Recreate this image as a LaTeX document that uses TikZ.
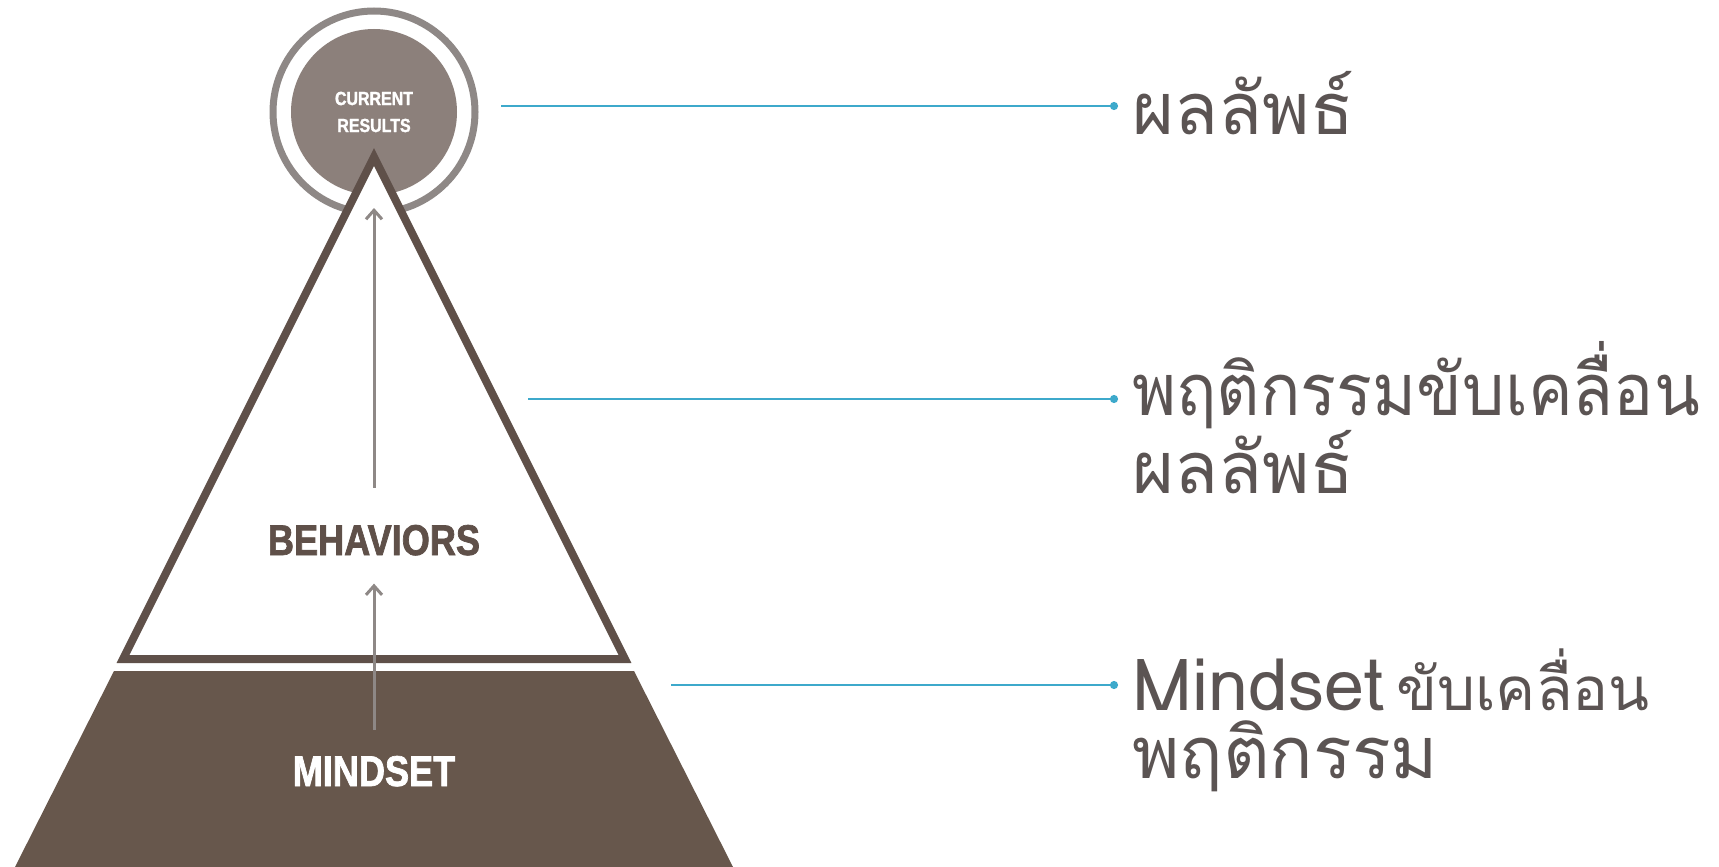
\documentclass[tikz,border=0pt]{standalone}
\usepackage{fontspec}
\usetikzlibrary{arrows.meta,positioning}
\newfontfamily\thaifont[Script=Thai]{Loma}
\newfontfamily\thaitight[Script=Thai,FakeStretch=0.93]{Loma}
\newfontfamily\capsfont[FakeStretch=0.84,FakeBold=1.6]{Liberation Sans Bold}
\definecolor{earth}{HTML}{67574C}
\definecolor{rim}{HTML}{5F5049}
\definecolor{stone}{HTML}{8C807B}
\definecolor{ash}{HTML}{8E8886}
\definecolor{sky}{HTML}{3DA9CB}
\definecolor{ink}{HTML}{5B5453}
\begin{document}
\begin{tikzpicture}[x=1pt,y=-1pt,
  lead/.style={sky,line width=2.2pt,-{Circle[length=8pt]}},
  rise/.style={ash,line width=3pt,-{Straight Barb[length=9pt,width=16pt]}},
  tier/.style={inner sep=0pt,anchor=base,font=\capsfont\fontsize{43}{46}\selectfont},
  note/.style={ink,align=left,anchor=base west,inner sep=0pt,
    font=\thaifont\fontsize{72}{71}\selectfont}
]
  \useasboundingbox[fill=white] (0,0) rectangle (1719,867);
  \coordinate (apex) at (374,157);
  \fill[earth] (114,671) -- (634,671) -- (733,867) -- (15,867) -- cycle;
  \node[circle,fill=stone,minimum size=166pt,inner sep=0pt,align=center,text=white,
    font=\capsfont\fontsize{19}{27}\selectfont] (res) at (374,112) {CURRENT\\RESULTS};
  \draw[ash,line width=7pt] (res) circle[radius=101];
  \filldraw[fill=white,draw=rim,line width=8pt] (apex) -- (625,659) -- (123,659) -- cycle;
  \node[tier,rim] (beh) at (374,555) {BEHAVIORS};
  \node[tier,white] (mind) at (374,786) {MINDSET};
  \draw[rise] ([yshift=26pt]mind.north) -- ([yshift=-28pt]beh.south);
  \draw[rise] ([yshift=37pt]beh.north) -- ([yshift=-51pt]apex);
  \node[note] (res-txt) at (1132,134) {ผลลัพธ์};
  \node[note] (beh-txt) at (1132,493) {{\thaitight พฤติกรรมขับเคลื่อน}\\ผลลัพธ์};
  \node[note] (mind-txt) at (1132,778) {Mindset\,{\fontsize{60}{71}\selectfont ขับเคลื่อน}\\[-3pt]พฤติกรรม};
  \coordinate (res-in) at (501,106);
  \coordinate (res-dot) at (1118,106);
  \coordinate (beh-in) at (528,399);
  \coordinate (beh-dot) at (1118,399);
  \coordinate (mind-in) at (671,685);
  \coordinate (mind-dot) at (1118,685);
  \draw[lead] (res-in) -- (res-dot);
  \draw[lead] (beh-in) -- (beh-dot);
  \draw[lead] (mind-in) -- (mind-dot);
\end{tikzpicture}
\end{document}
